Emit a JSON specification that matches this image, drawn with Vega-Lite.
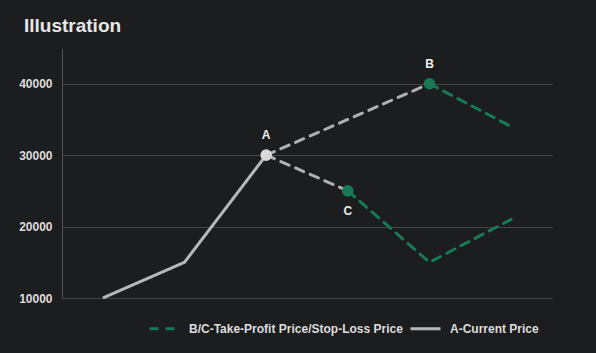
{
  "$schema": "https://vega.github.io/schema/vega-lite/v6.json",
  "width": 490,
  "height": 250,
  "autosize": {"type": "none"},
  "padding": {"left": 62, "top": 48, "right": 44, "bottom": 55},
  "background": "#1c1d1f",
  "title": {
    "text": "Illustration",
    "anchor": "start",
    "frame": "group",
    "dx": -38,
    "offset": -3,
    "baseline": "alphabetic",
    "fontSize": 19,
    "font": "Liberation Sans",
    "fontWeight": "bold",
    "color": "#e6e6e6"
  },
  "config": {
    "view": {"stroke": null},
    "font": "Liberation Sans"
  },
  "datasets": {
    "current": [
      {"x": 1, "y": 10000, "series": "A-Current Price"},
      {"x": 2, "y": 15000, "series": "A-Current Price"},
      {"x": 3, "y": 30000, "series": "A-Current Price"}
    ],
    "proj": [
      {"x": 3, "y": 30000, "leg": "AB"},
      {"x": 5, "y": 40000, "leg": "AB"},
      {"x": 3, "y": 30000, "leg": "AC"},
      {"x": 4, "y": 25000, "leg": "AC"}
    ],
    "target": [
      {"x": 5, "y": 40000, "leg": "B", "series": "B/C-Take-Profit Price/Stop-Loss Price"},
      {"x": 6, "y": 34000, "leg": "B", "series": "B/C-Take-Profit Price/Stop-Loss Price"},
      {"x": 4, "y": 25000, "leg": "C", "series": "B/C-Take-Profit Price/Stop-Loss Price"},
      {"x": 5, "y": 15000, "leg": "C", "series": "B/C-Take-Profit Price/Stop-Loss Price"},
      {"x": 6, "y": 21000, "leg": "C", "series": "B/C-Take-Profit Price/Stop-Loss Price"}
    ],
    "points": [
      {"x": 3, "y": 30000, "label": "A", "kind": "current", "side": "above"},
      {"x": 5, "y": 40000, "label": "B", "kind": "target", "side": "above"},
      {"x": 4, "y": 25000, "label": "C", "kind": "target", "side": "below"}
    ]
  },
  "encoding": {
    "x": {
      "field": "x",
      "type": "ordinal",
      "scale": {"type": "point", "domain": [1, 2, 3, 4, 5, 6], "padding": 0.5},
      "axis": null
    },
    "y": {
      "field": "y",
      "type": "quantitative",
      "scale": {"domain": [10000, 45000], "nice": false, "zero": false},
      "axis": {
        "title": null,
        "values": [10000, 20000, 30000, 40000],
        "format": "d",
        "grid": true,
        "gridColor": "#454545",
        "gridWidth": 1,
        "domain": true,
        "domainColor": "#555555",
        "ticks": false,
        "labelPadding": 10,
        "labelFont": "Liberation Sans",
        "labelFontSize": 12,
        "labelFontWeight": "bold",
        "labelColor": "#dcdcdc"
      }
    }
  },
  "layer": [
    {
      "data": {"name": "proj"},
      "mark": {"type": "line", "color": "#b0b0b0", "strokeWidth": 3, "strokeDash": [9, 7], "strokeCap": "round"},
      "encoding": {"detail": {"field": "leg"}}
    },
    {
      "data": {"name": "target"},
      "mark": {"type": "line", "strokeWidth": 3, "strokeCap": "round"},
      "encoding": {
        "detail": {"field": "leg"},
        "color": {
          "field": "series",
          "type": "nominal",
          "scale": {
            "domain": ["B/C-Take-Profit Price/Stop-Loss Price", "A-Current Price"],
            "range": ["#177a55", "#b8b8b8"]
          },
          "legend": {
            "orient": "none",
            "legendX": 86,
            "legendY": 264,
            "direction": "horizontal",
            "title": null,
            "symbolType": "stroke",
            "symbolSize": 900,
            "symbolStrokeWidth": 3,
            "labelFont": "Liberation Sans",
            "labelFontSize": 12,
            "labelFontWeight": "bold",
            "labelColor": "#dcdcdc",
            "labelOffset": 8,
            "labelLimit": 400,
            "columnPadding": 1
          }
        },
        "strokeDash": {
          "field": "series",
          "type": "nominal",
          "scale": {
            "domain": ["B/C-Take-Profit Price/Stop-Loss Price", "A-Current Price"],
            "range": [[9, 7], [1, 0]]
          }
        }
      }
    },
    {
      "data": {"name": "current"},
      "mark": {"type": "line", "strokeWidth": 3},
      "encoding": {
        "color": {"field": "series", "type": "nominal"},
        "strokeDash": {"field": "series", "type": "nominal"}
      }
    },
    {
      "data": {"name": "points"},
      "transform": [{"filter": "datum.kind === 'current'"}],
      "mark": {"type": "circle", "size": 135, "color": "#d9d9d9", "opacity": 1}
    },
    {
      "data": {"name": "points"},
      "transform": [{"filter": "datum.kind === 'target'"}],
      "mark": {"type": "circle", "size": 135, "color": "#177a55", "opacity": 1}
    },
    {
      "data": {"name": "points"},
      "transform": [{"filter": "datum.side === 'above'"}],
      "mark": {"type": "text", "dy": -20, "fontSize": 12, "fontWeight": "bold", "color": "#eeeeee", "font": "Liberation Sans"},
      "encoding": {"text": {"field": "label"}}
    },
    {
      "data": {"name": "points"},
      "transform": [{"filter": "datum.side === 'below'"}],
      "mark": {"type": "text", "dy": 20, "fontSize": 12, "fontWeight": "bold", "color": "#eeeeee", "font": "Liberation Sans"},
      "encoding": {"text": {"field": "label"}}
    }
  ]
}
